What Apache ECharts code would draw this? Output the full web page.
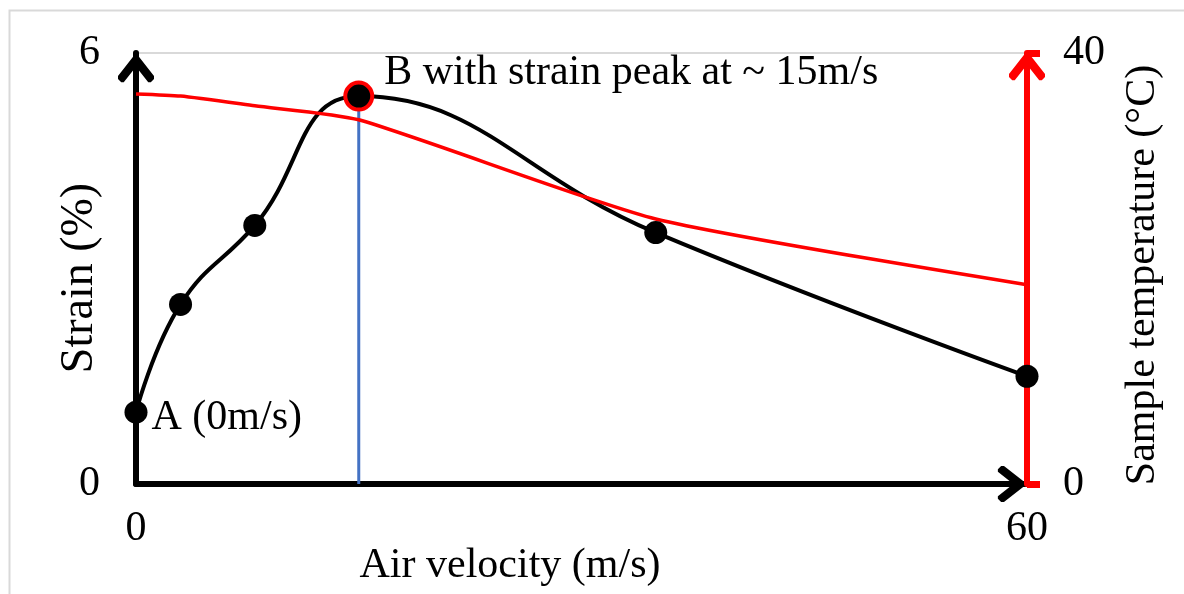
<!DOCTYPE html>
<html>
<head>
<meta charset="utf-8">
<script src="https://cdn.jsdelivr.net/npm/echarts@6/dist/echarts.min.js"></script>
<style>
  html, body { margin: 0; padding: 0; background: #ffffff; }
  #chart { width: 1184px; height: 594px; }
</style>
</head>
<body>
<div id="chart"></div>
<script>
// ---- data ----
const velocity = [0, 3, 8, 15, 35, 60];            // Air velocity (m/s)
const strain = [1.0, 2.5, 3.6, 5.4, 3.5, 1.5];      // Strain (%)
const temperature = [36.2, 36.0, 35.1, 33.8, 24.6, 18.5]; // Sample temperature (°C)
const peakIndex = 3;
const xRange = [0, 60];
const strainRange = [0, 6];
const tempRange = [0, 40];
const xTitle = 'Air velocity (m/s)';
const yTitle = 'Strain (%)';
const y2Title = 'Sample temperature (°C)';
const labelA = 'A (0m/s)';
const labelB = 'B with strain peak at ~ 15m/s';

// ---- build ----
const FONT = 'Liberation Serif, Times New Roman, serif';
const FS = 42;
const chevron = 'path://M44,0 L56,0 L100,56 L100,64 L91,73 L84,73 L50,30 L16,73 L9,73 L0,64 L0,56 Z';

const strainPts = velocity.map((v, i) => [v, strain[i]]);
const tempPts = velocity.map((v, i) => [v, temperature[i]]);
const markerData = strainPts.map((p, i) => {
  const item = { value: p };
  if (i === 0) {
    item.label = { show: true, formatter: labelA, position: 'right', distance: 4, offset: [0, 6] };
  }
  if (i === peakIndex) {
    item.symbolSize = 27;
    item.itemStyle = { color: '#000', borderColor: '#ff0000', borderWidth: 4, opacity: 1 };
    item.label = { show: true, formatter: labelB, position: 'right', distance: 10, offset: [0, -23] };
  }
  return item;
});

const chart = echarts.init(document.getElementById('chart'), null, { renderer: 'canvas' });
chart.setOption({
  animation: false,
  backgroundColor: '#ffffff',
  textStyle: { fontFamily: FONT },
  grid: { left: 136, right: 157, top: 53, bottom: 110, containLabel: false },
  graphic: [
    { type: 'rect', left: 7, top: 8, shape: { x: 0, y: 0, width: 1200, height: 700 },
      style: { fill: 'none', stroke: '#d9d9d9', lineWidth: 2 }, z: -10, silent: true },
    { type: 'text', x: 510, y: 566, style: { text: xTitle, font: FS + 'px ' + FONT, fill: '#000', textAlign: 'center', textVerticalAlign: 'middle' } },
    { type: 'text', x: 80, y: 278, rotation: Math.PI / 2, style: { text: yTitle, font: '46px ' + FONT, fill: '#000', textAlign: 'center', textVerticalAlign: 'middle' } },
    { type: 'text', x: 1143, y: 275, rotation: Math.PI / 2, style: { text: y2Title, font: FS + 'px ' + FONT, fill: '#000', textAlign: 'center', textVerticalAlign: 'middle' } }
  ],
  xAxis: {
    type: 'value', min: xRange[0], max: xRange[1], interval: xRange[1] - xRange[0],
    position: 'bottom',
    axisLine: { show: true, onZero: false, lineStyle: { color: '#000', width: 6 },
      symbol: ['none', chevron], symbolSize: [36, 33], symbolOffset: [0, -16] },
    axisTick: { show: false },
    splitLine: { show: false },
    axisLabel: { color: '#000', fontSize: FS, fontFamily: FONT, margin: 24 }
  },
  yAxis: [
    {
      type: 'value', min: strainRange[0], max: strainRange[1], interval: strainRange[1] - strainRange[0],
      position: 'left',
      axisLine: { show: true, onZero: false, lineStyle: { color: '#000', width: 6 },
        symbol: ['none', chevron], symbolSize: [36, 33], symbolOffset: [0, -16] },
      axisTick: { show: false },
      splitLine: { show: true, lineStyle: { color: '#d9d9d9', width: 2 } },
      axisLabel: { color: '#000', fontSize: FS, fontFamily: FONT, margin: 36 }
    },
    {
      type: 'value', min: tempRange[0], max: tempRange[1], interval: tempRange[1] - tempRange[0],
      position: 'right',
      axisLine: { show: true, onZero: false, lineStyle: { color: '#ff0000', width: 6 },
        symbol: ['none', chevron], symbolSize: [36, 31], symbolOffset: [0, -14] },
      axisTick: { show: true, inside: false, length: 13, lineStyle: { color: '#ff0000', width: 7 } },
      splitLine: { show: false },
      axisLabel: { color: '#000', fontSize: FS, fontFamily: FONT, margin: 36 },
      z: 3
    }
  ],
  series: [
    {
      name: 'peak marker line', type: 'line', yAxisIndex: 0,
      data: [[velocity[peakIndex], strainRange[0]], [velocity[peakIndex], strain[peakIndex]]],
      symbol: 'none', lineStyle: { color: '#4472C4', width: 3 }, z: 1, silent: true
    },
    {
      name: 'Strain', type: 'line', yAxisIndex: 0, data: strainPts,
      smooth: 0.45, symbol: 'none', lineStyle: { color: '#000', width: 4 }, z: 2
    },
    {
      name: 'Temperature', type: 'line', yAxisIndex: 1, data: tempPts,
      smooth: 0.2, symbol: 'none', lineStyle: { color: '#ff0000', width: 3.5 }, z: 3
    },
    {
      name: 'Strain points', type: 'scatter', yAxisIndex: 0, data: markerData,
      symbolSize: 23, itemStyle: { color: '#000', opacity: 1 }, z: 4,
      label: { color: '#000', fontSize: FS, fontFamily: FONT }
    }
  ]
});
</script>
</body>
</html>
